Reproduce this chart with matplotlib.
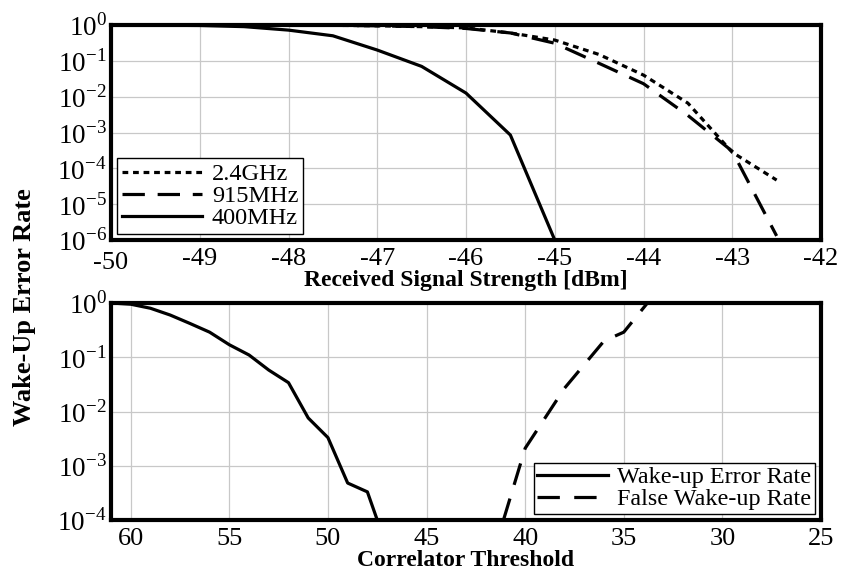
import numpy as np
import matplotlib
matplotlib.use("Agg")
import matplotlib.pyplot as plt
from matplotlib.ticker import FixedLocator
from matplotlib.transforms import ScaledTranslation

plt.rcParams['font.family'] = 'Liberation Serif'
plt.rcParams['mathtext.fontset'] = 'custom'
plt.rcParams['mathtext.rm'] = 'Liberation Serif'
plt.rcParams['axes.unicode_minus'] = False

# Received signal strength sweep [dBm]
rss_24 = [-50, -49, -48, -47.5, -47, -46.5, -46, -45.5, -45, -44.5, -44, -43.5, -43, -42.5]
err_24 = [1.0, 1.0, 1.0, 0.98, 0.95, 0.9, 0.83, 0.6, 0.38, 0.15, 0.04, 6.6e-3, 2.8e-4, 4.7e-5]

rss_915 = [-50, -49, -48, -47.5, -47, -46.5, -46, -45.5, -45, -44.5, -44, -43.5, -43, -42.5]
err_915 = [1.0, 1.0, 1.0, 0.98, 0.95, 0.9, 0.8, 0.6, 0.31, 0.085, 0.023, 3e-3, 3e-4, 1.3e-6]

rss_400 = [-50, -49, -48.5, -48, -47.5, -47, -46.5, -46, -45.5, -45]
err_400 = [1.0, 0.97, 0.9, 0.72, 0.5, 0.2, 0.07, 0.0126, 8.5e-4, 1e-6]

# Correlator threshold sweep
thr_wake = [61, 60, 59, 58, 57, 56, 55, 54, 53, 52, 51, 50, 49, 48, 47.5]
err_wake = [1.0, 0.95, 0.8, 0.6, 0.42, 0.29, 0.17, 0.11, 0.058, 0.034, 0.0076, 0.0033, 4.8e-4, 3.3e-4, 1e-4]

thr_false = [41.1, 40, 38, 36, 35, 33.8]
err_false = [1e-4, 2.1e-3, 0.027, 0.2, 0.29, 1.0]

fig = plt.figure(figsize=(8.41, 5.73), dpi=100)
ax1 = fig.add_axes([111 / 841, 1 - 240 / 573, 710 / 841, 215 / 573])
ax2 = fig.add_axes([111 / 841, 1 - 520 / 573, 710 / 841, 217 / 573])

lw = 2.3
ax1.plot(rss_24, err_24, color='black', lw=lw, ls=(0, (1.8, 1.5)), label='2.4GHz')
ax1.plot(rss_915, err_915, color='black', lw=lw, ls=(0, (7, 4)), label='915MHz')
ax1.plot(rss_400, err_400, color='black', lw=lw, label='400MHz')

ax2.plot(thr_wake, err_wake, color='black', lw=lw, label='Wake-up Error Rate')
ax2.plot(thr_false, err_false, color='black', lw=lw, ls=(0, (7, 4.5)), label='False Wake-up Rate')

ax1.set_yscale('log')
ax1.set_xlim(-50, -42)
ax1.set_ylim(1e-6, 1)
ax1.xaxis.set_major_locator(FixedLocator(np.arange(-50, -41, 1)))
ax1.yaxis.set_major_locator(FixedLocator([10.0 ** k for k in range(-6, 1)]))
ax1.set_yticklabels(['$10^{%d}$' % k for k in range(-6, 1)])
ax1.set_xlabel('Received Signal Strength [dBm]', fontsize=17, fontweight='bold', labelpad=-2.5)

ax2.set_yscale('log')
ax2.set_xlim(61, 25)
ax2.set_ylim(1e-4, 1)
ax2.xaxis.set_major_locator(FixedLocator(np.arange(60, 24, -5)))
ax2.yaxis.set_major_locator(FixedLocator([10.0 ** k for k in range(-4, 1)]))
ax2.set_yticklabels(['$10^{%d}$' % k for k in range(-4, 1)])
ax2.set_xlabel('Correlator Threshold', fontsize=17, fontweight='bold', labelpad=0)

for ax in (ax1, ax2):
    ax.minorticks_off()
    ax.grid(True, color='#c8c8c8', lw=0.9)
    ax.set_axisbelow(True)
    ax.tick_params(length=0)
    ax.tick_params(axis='x', labelsize=19, pad=6)
    ax.tick_params(axis='y', labelsize=19.5, pad=3)
    for s in ax.spines.values():
        s.set_linewidth(3)

# push the "-50" label a little lower so it clears the 10^-6 label
first = ax1.xaxis.get_major_ticks()[0].label1
first.set_transform(first.get_transform() + ScaledTranslation(0, -2.5 / 72, fig.dpi_scale_trans))

leg1 = ax1.legend(loc='lower left', fontsize=17.5, fancybox=False, edgecolor='black',
                  handlelength=3.3, borderpad=0.2, labelspacing=0.0, handletextpad=0.4,
                  borderaxespad=0.25, framealpha=1)
leg1.get_frame().set_linewidth(1.0)
leg2 = ax2.legend(loc='lower right', fontsize=17.4, fancybox=False, edgecolor='black',
                  handlelength=2.9, borderpad=0.15, labelspacing=0.0, handletextpad=0.4,
                  borderaxespad=0.25, framealpha=1)
leg2.get_frame().set_linewidth(1.0)

fig.text(25 / 841, 1 - 307 / 573, 'Wake-Up Error Rate', rotation=90, ha='center', va='center',
         fontsize=19, fontweight='bold')

fig.savefig('out.png', dpi=100)
